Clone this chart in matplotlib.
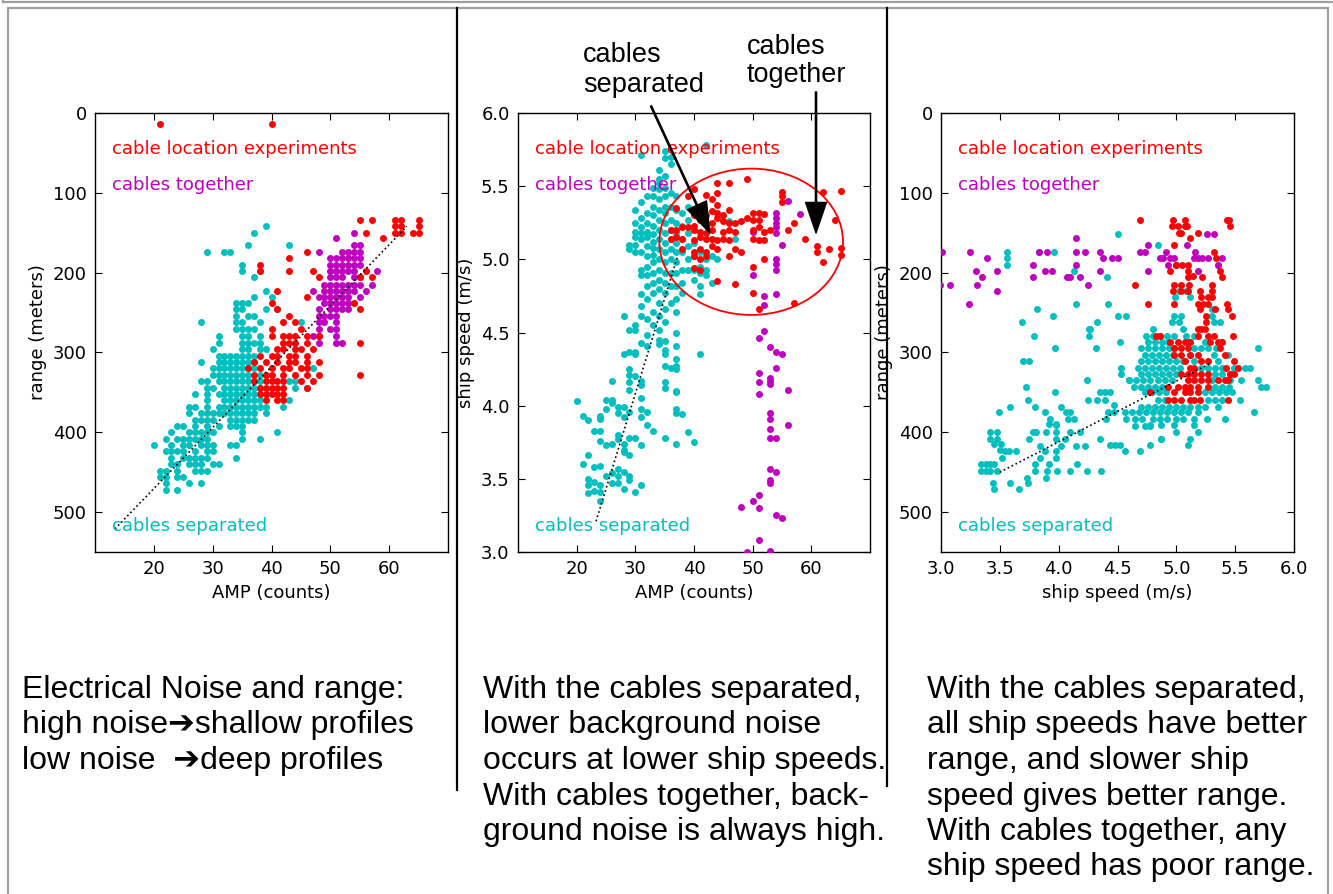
import matplotlib
matplotlib.use('Agg')
import matplotlib.pyplot as plt
from matplotlib.patches import Ellipse, Rectangle
from matplotlib.lines import Line2D

W, H = 1333, 894
RED = '#ff0000'
CYAN = '#00bfbf'
MAG = '#bf00bf'

# ---- panel 1: AMP (counts) vs range (m); rows are range -> AMP values
p1_sep_rows = {
    142: [39], 150: [37], 166: [36, 43], 174: [29, 32, 33], 191: [35], 198: [35, 38],
    205: [37], 223: [39], 230: [37, 40], 238: [34, 35, 36], 246: [34, 35, 39, 41],
    254: [34, 36, 37], 262: [28, 34, 35, 38, 45], 271: [34, 35, 36, 37],
    280: [31, 35, 36, 38], 288: [31, 35, 36, 37, 38], 296: [30, 35, 36, 38, 39],
    304: [31, 32, 33, 34, 35, 36, 37], 312: [28, 31, 32, 33, 34, 35, 36, 37],
    320: [30, 31, 32, 33, 34, 35, 36, 37, 47], 328: [30, 31, 32, 33, 34, 35, 36, 38],
    336: [28, 29, 31, 32, 33, 34, 35, 36, 37, 38, 43, 44],
    344: [29, 30, 32, 33, 34, 35, 36, 37, 38, 44, 46],
    352: [27, 29, 31, 32, 33, 34, 35, 36, 37], 360: [29, 32, 33, 34, 35, 36, 37, 38, 43],
    368: [26, 27, 29, 31, 32, 33, 34, 35, 36, 37, 38, 39, 42],
    376: [26, 28, 29, 30, 31, 32, 33, 34, 35, 36, 37, 39],
    384: [27, 28, 29, 30, 33, 34, 35, 36, 37], 392: [24, 25, 27, 29, 31, 33, 34, 35],
    400: [23, 26, 27, 28, 29, 30, 35, 41], 408: [22, 24, 25, 26, 27, 28, 29, 35, 38],
    416: [20, 23, 25, 26, 28, 29, 30, 33, 34], 424: [22, 23, 24, 25, 27, 29, 30],
    432: [23, 25, 26, 27, 28, 29, 34], 440: [23, 24, 26, 27, 28, 30, 31],
    448: [21, 22, 24, 27, 28, 29], 456: [21, 22, 24, 25], 464: [22, 26, 28], 472: [22, 24],
}
p1_tog_rows = {
    150: [54], 157: [51], 166: [54, 55], 174: [48, 52, 53, 54, 55],
    182: [50, 51, 52, 53, 54, 55], 191: [50, 51, 52, 53, 54, 55], 198: [50, 51, 52, 53, 54, 58],
    205: [50, 51, 52, 54, 55], 215: [49, 50, 51, 52, 53, 54, 55, 57],
    223: [47, 49, 50, 51, 52, 53, 54, 56], 230: [48, 49, 50, 51, 52, 53, 55],
    238: [49, 50, 51, 52, 53], 246: [48, 50, 51, 52, 53], 254: [48, 49, 50, 51],
    262: [48, 49, 51], 271: [48, 50, 51], 280: [47, 48, 51], 288: [48, 51, 52],
}
p1_exp_rows = {
    14: [21, 40], 134: [55, 57, 61, 62, 65], 142: [61, 62, 65], 150: [56, 61, 62, 64, 65],
    157: [59], 174: [46], 182: [43], 191: [38], 198: [38, 43, 47, 56], 205: [48, 55, 57],
    223: [41], 230: [46], 238: [40, 54], 246: [41, 55], 254: [43], 262: [42, 44],
    271: [40, 45], 280: [40, 42, 43, 44, 46, 48], 288: [42, 43, 44, 46, 55],
    296: [41, 42, 44, 45, 47], 304: [38, 40, 41, 43, 44, 46],
    312: [37, 39, 41, 43, 44, 46, 48], 320: [36, 38, 40, 42, 43, 45, 46],
    328: [37, 39, 40, 42, 44, 46, 48, 55], 336: [37, 39, 40, 41, 42, 45, 47],
    344: [38, 39, 40, 41, 42, 46], 352: [38, 39, 40, 41, 42], 360: [39, 41, 42],
}
p1_fit_amp = [13.4, 63]
p1_fit_rng = [521, 142]

# ---- panel 2: AMP (counts) vs ship speed (m/s)
p2_sep_cols = {
    20: [4.03], 21: [3.93, 3.60], 22: [3.90, 3.66, 3.50, 3.46, 3.40],
    23: [3.83, 3.58, 3.48, 3.42], 24: [3.93, 3.91, 3.83, 3.76, 3.59, 3.46, 3.41, 3.35],
    25: [4.04, 3.98, 3.73, 3.52], 26: [4.17, 4.04, 4.02, 3.74, 3.54, 3.47],
    27: [3.99, 3.95, 3.80, 3.77, 3.57, 3.52, 3.47],
    28: [4.61, 4.35, 3.99, 3.92, 3.74, 3.70, 3.68, 3.55, 3.43],
    29: [5.10, 5.07, 4.52, 4.37, 4.25, 4.21, 4.16, 4.11, 3.96, 3.78, 3.66, 3.52, 3.49],
    30: [5.34, 5.25, 5.19, 5.15, 5.10, 5.05, 4.55, 4.52, 4.37, 4.35, 4.20, 3.78, 3.41],
    31: [5.71, 5.39, 5.28, 5.22, 5.18, 5.14, 5.05, 4.93, 4.89, 4.76, 4.68, 4.61, 4.43,
         4.17, 4.14, 4.05, 3.98, 3.92, 3.73, 3.46],
    32: [5.43, 5.32, 5.25, 5.19, 5.15, 5.09, 5.02, 4.95, 4.89, 4.82, 4.73, 4.59, 4.48,
         4.41, 3.96, 3.87],
    33: [5.49, 5.43, 5.36, 5.30, 5.23, 5.17, 5.12, 5.08, 5.03, 4.98, 4.91, 4.84, 4.77,
         4.64, 4.55, 3.83],
    34: [5.61, 5.55, 5.52, 5.48, 5.41, 5.34, 5.27, 5.20, 5.14, 5.07, 5.00, 4.93, 4.86,
         4.80, 4.70, 4.61, 4.52, 4.45, 4.42],
    35: [5.74, 5.69, 5.57, 5.49, 5.43, 5.36, 5.32, 5.25, 5.18, 5.11, 5.05, 4.98, 4.91,
         4.84, 4.77, 4.66, 4.57, 4.44, 4.38, 4.35, 4.27, 4.16, 4.12, 3.78],
    36: [5.70, 5.65, 5.45, 5.36, 5.27, 5.20, 5.14, 5.07, 5.00, 4.91, 4.82, 4.70, 4.26],
    37: [5.43, 5.34, 5.25, 5.18, 5.11, 5.05, 4.98, 4.91, 4.82, 4.73, 4.64, 4.50, 4.41,
         4.32, 4.27, 4.25, 4.10, 4.09, 3.98, 3.95, 3.74],
    38: [5.32, 5.23, 5.14, 5.05, 4.93, 4.84, 4.77, 3.94],
    39: [5.36, 5.27, 5.18, 5.09, 5.00, 4.93, 3.82],
    40: [5.11, 5.02, 4.93, 4.86, 3.75], 41: [5.05, 4.95, 4.91, 4.82, 4.76, 4.35],
    42: [5.78, 5.00, 4.93, 4.89], 43: [5.14, 5.02, 4.84], 44: [5.00], 46: [5.26], 47: [5.14],
}
p2_tog = [(56, 5.40), (58, 5.31), (54, 5.32), (54, 5.28), (54, 5.25), (54, 5.22), (54, 5.18),
          (50, 5.19), (55, 5.10), (54, 5.00), (54, 4.97), (54, 4.93), (50, 4.89), (52, 4.75),
          (52, 4.69), (54, 4.76), (52, 4.51), (51, 4.46), (53, 4.40), (54, 4.37), (55, 4.35),
          (54, 4.26), (51, 4.22), (51, 4.16), (51, 4.08), (53, 4.19), (53, 4.17), (53, 4.15),
          (56, 4.11), (53, 3.95), (53, 3.91), (53, 3.84), (53, 3.78), (54, 3.78), (56, 3.87),
          (53, 3.57), (54, 3.55), (53, 3.49), (53, 3.47), (51, 3.39), (50, 3.35), (48, 3.31),
          (51, 3.30), (54, 3.25), (55, 3.23), (51, 3.08), (53, 3.01), (49, 3.00)]
p2_exp = [(49, 5.55), (46, 5.52), (44, 5.52), (40, 5.48), (42, 5.44), (44, 5.45), (43, 5.41),
          (39, 5.43), (55, 5.46), (55, 5.43), (62, 5.46), (65, 5.47), (55, 5.39), (37, 5.35),
          (44, 5.37), (46, 5.34), (45, 5.30), (44, 5.32), (43, 5.33), (42, 5.30), (50, 5.32),
          (51, 5.32), (52, 5.31), (50, 5.27), (51, 5.27), (49, 5.28), (47, 5.25), (48, 5.26),
          (46, 5.25), (45, 5.26), (44, 5.28), (43, 5.25), (40, 5.30), (41, 5.27), (40, 5.23),
          (39, 5.22), (57, 5.25), (56, 5.20), (64, 5.27), (36, 5.20), (37, 5.20), (38, 5.22),
          (40, 5.20), (41, 5.19), (42, 5.18), (43, 5.20), (45, 5.19), (46, 5.20), (47, 5.19),
          (50, 5.20), (51, 5.22), (52, 5.19), (53, 5.20), (36, 5.14), (37, 5.15), (38, 5.14),
          (40, 5.13), (41, 5.15), (42, 5.14), (43, 5.14), (44, 5.13), (45, 5.14), (46, 5.13),
          (50, 5.14), (51, 5.13), (52, 5.13), (59, 5.14), (61, 5.09), (63, 5.07), (61, 5.05),
          (65, 5.08), (62, 4.98), (65, 5.03), (38, 5.07), (40, 5.05), (41, 5.07), (42, 5.05),
          (43, 5.09), (40, 5.02), (41, 5.00), (42, 5.02), (44, 5.07), (46, 5.02), (47, 5.07),
          (48, 5.05), (52, 5.00), (50, 4.95), (40, 4.94), (41, 4.93), (44, 4.85), (47, 4.83),
          (50, 4.77), (57, 4.70), (51, 4.66)]
p2_fit_amp = [23.3, 37.2]
p2_fit_spd = [3.21, 5.02]
p2_ring = (49.75, 5.12, 31.3, 1.0)   # centre amp, centre speed, width, height
p2_tip_sep = (42.7, 5.18)
p2_tip_tog = (60.8, 5.18)

# ---- panel 3: ship speed (m/s) vs range (m)
p3_sep_rows = {
    223: [5.02, 5.08], 230: [4.99, 5.12], 246: [5.30], 254: [4.98, 5.04, 5.30],
    262: [4.96, 5.02, 5.32, 5.37], 271: [4.80, 5.06],
    279: [4.74, 4.80, 4.86, 4.92, 4.98, 5.08, 5.15],
    287: [4.76, 4.82, 4.88, 4.93, 5.10, 5.12, 5.24, 5.38],
    295: [4.70, 4.76, 4.82, 4.88, 4.94, 4.98, 5.15, 5.21, 5.27, 5.34, 5.69],
    303: [4.73, 4.79, 4.85, 4.91, 4.97, 5.12, 5.32, 5.44],
    311: [4.70, 4.76, 4.82, 4.88, 4.94, 5.00, 5.06, 5.15, 5.35],
    319: [4.67, 4.73, 4.79, 4.85, 4.91, 4.97, 5.03, 5.21, 5.27, 5.33, 5.39, 5.49, 5.58, 5.63],
    327: [4.70, 4.76, 4.82, 4.88, 4.94, 5.00, 5.33, 5.39, 5.46],
    335: [4.60, 4.66, 4.72, 4.78, 4.84, 4.90, 4.96, 5.30, 5.46, 5.55, 5.69],
    343: [4.64, 4.70, 4.76, 4.82, 4.88, 5.33, 5.39, 5.45, 5.72, 5.76],
    350: [4.73, 4.79, 4.85, 4.91, 5.24, 5.30, 5.36, 5.42, 5.47],
    359: [4.84, 4.90, 5.27, 5.33, 5.39, 5.54],
    368: [4.70, 4.76, 4.82, 4.88, 4.94, 5.00, 5.06, 5.12, 5.18, 5.24, 5.35],
    375: [4.56, 4.62, 4.68, 4.74, 4.80, 4.86, 4.92, 4.98, 5.04, 5.10, 5.18, 5.66],
    383: [4.65, 4.71, 4.80, 4.86, 4.92, 5.00, 5.06, 5.15, 5.26, 5.41],
    391: [4.78, 4.87, 4.98, 5.15], 400: [5.00, 5.18], 408: [4.87, 5.12], 416: [5.10],
}
p3_sep_sparse = [
    (4.50, 151), (4.84, 166), (3.56, 174), (3.56, 182), (3.56, 191), (3.83, 174), (3.96, 174),
    (4.13, 198), (4.41, 205), (5.35, 191), (3.82, 246), (3.95, 254), (4.15, 239), (4.42, 239),
    (4.50, 254), (4.57, 254), (3.69, 262), (4.27, 271), (4.33, 262), (3.79, 279), (4.26, 271),
    (4.26, 279), (3.97, 294), (4.32, 294), (4.52, 287), (3.70, 311), (3.75, 311), (4.24, 335),
    (4.53, 319), (4.53, 327), (4.60, 335), (3.72, 343), (3.74, 359), (3.97, 350), (3.59, 368),
    (3.49, 375), (3.80, 368), (3.88, 375), (3.93, 383), (3.92, 390), (3.98, 390), (4.02, 368),
    (4.06, 375), (4.10, 375), (4.08, 383), (4.13, 383), (4.25, 360), (4.33, 360), (4.39, 360),
    (4.35, 350), (4.39, 350), (4.44, 350), (4.47, 366), (4.47, 375), (4.42, 375), (4.40, 383),
    (4.57, 383), (4.65, 392), (4.73, 392), (4.78, 392), (3.42, 400), (3.48, 400), (3.42, 409),
    (3.48, 409), (3.45, 415), (3.51, 415), (3.54, 423), (3.50, 422), (3.52, 432), (3.58, 423),
    (3.64, 423), (3.75, 408), (3.78, 400), (3.81, 400), (3.84, 417), (3.89, 400), (3.98, 391),
    (3.98, 400), (3.98, 408), (4.02, 417), (4.05, 409), (4.10, 400), (4.18, 400), (4.15, 417),
    (4.22, 417), (4.35, 408), (4.44, 416), (4.48, 416), (4.52, 416), (4.56, 423), (4.69, 423),
    (4.78, 416), (4.87, 408), (3.34, 440), (3.38, 440), (3.42, 440), (3.34, 448), (3.38, 448),
    (3.42, 448), (3.48, 448), (3.45, 440), (3.44, 463), (3.45, 471), (3.59, 463), (3.66, 471),
    (3.73, 457), (3.74, 463), (3.80, 440), (3.80, 448), (3.90, 448), (3.92, 440), (3.89, 457),
    (3.99, 448), (4.10, 448), (4.16, 440), (4.24, 448), (4.36, 448), (3.98, 423), (3.98, 432),
    (3.88, 423), (3.84, 432)]
p3_tog = [(3.01, 174), (3.08, 215), (2.99, 215), (3.25, 174), (3.30, 198), (3.35, 206),
          (3.31, 215), (3.39, 182), (3.24, 239), (3.48, 198), (3.48, 223), (3.78, 191),
          (3.78, 205), (3.83, 174), (3.90, 174), (3.88, 198), (3.94, 198), (4.07, 205),
          (4.10, 205), (4.15, 157), (4.15, 174), (4.15, 191), (4.22, 174), (4.18, 205),
          (4.25, 215), (4.35, 174), (4.38, 182), (4.35, 198), (4.45, 182), (4.50, 182),
          (4.69, 174), (4.73, 174), (4.76, 166), (4.76, 198), (4.86, 182), (4.89, 182),
          (4.91, 174), (4.95, 182), (4.98, 182), (4.93, 191), (5.00, 191), (5.09, 166),
          (5.16, 174), (5.15, 182), (5.18, 182), (5.22, 182), (5.27, 182), (5.18, 198),
          (5.26, 151), (5.32, 151), (5.39, 182), (5.35, 191)]
p3_exp = [(4.69, 134), (4.97, 134), (5.07, 134), (4.96, 142), (5.01, 142), (5.07, 142),
          (5.09, 142), (5.02, 150), (5.04, 150), (5.12, 157), (5.18, 150), (5.43, 134),
          (5.45, 134), (5.46, 142), (4.98, 166), (5.32, 174), (5.34, 182), (5.00, 191),
          (5.05, 191), (5.10, 191), (4.95, 198), (5.10, 198), (5.14, 204), (5.10, 206),
          (5.22, 205), (5.37, 198), (5.39, 206), (4.65, 215), (4.98, 215), (5.04, 215),
          (5.11, 215), (4.97, 223), (5.04, 223), (5.10, 223), (5.20, 223), (5.30, 215),
          (5.30, 223), (5.21, 230), (5.27, 230), (5.30, 230), (4.76, 239), (4.98, 239),
          (5.18, 239), (5.20, 246), (5.23, 239), (5.27, 239), (5.43, 239), (5.25, 254),
          (5.25, 262), (5.33, 246), (5.44, 246), (5.47, 254), (5.21, 271), (5.24, 271),
          (4.83, 279), (4.86, 279), (4.95, 287), (5.01, 287), (5.07, 287), (5.12, 287),
          (5.18, 279), (5.27, 279), (5.32, 279), (5.48, 279), (5.18, 271), (4.98, 295),
          (5.04, 295), (5.10, 295), (5.29, 287), (5.35, 287), (5.39, 287), (5.37, 295),
          (5.41, 303), (4.98, 303), (5.04, 303), (5.12, 303), (5.18, 303), (5.21, 311),
          (5.27, 311), (5.07, 311), (5.12, 319), (5.15, 319), (5.49, 311), (5.52, 319),
          (5.46, 327), (5.49, 327), (5.44, 335), (5.42, 319), (5.04, 327), (5.10, 327),
          (5.15, 327), (5.21, 327), (5.27, 327), (5.10, 335), (5.15, 335), (5.21, 335),
          (5.27, 335), (5.35, 335), (5.41, 335), (4.93, 343), (5.01, 343), (5.07, 343),
          (5.12, 343), (5.18, 343), (5.27, 343), (4.78, 350), (4.98, 350), (5.07, 350),
          (5.12, 350), (5.18, 350), (4.93, 359), (4.98, 359), (5.04, 359), (5.12, 359),
          (5.15, 359), (5.20, 359), (5.44, 359)]
p3_fit_spd = [3.5, 5.3]
p3_fit_rng = [450, 313]

notes_1 = ['Electrical Noise and range:', 'high noise\u2794shallow profiles',
           'low noise  \u2794deep profiles']
notes_2 = ['With the cables separated,', 'lower background noise',
           'occurs at lower ship speeds.', 'With cables together, back-',
           'ground noise is always high.']
notes_3 = ['With the cables separated,', 'all ship speeds have better',
           'range, and slower ship', 'speed gives better range.',
           'With cables together, any', 'ship speed has poor range.']


def rows_xy(rows):
    # {key: [values]} -> values on x, key on y
    xs, ys = [], []
    for k, vals in rows.items():
        xs += vals
        ys += [k] * len(vals)
    return xs, ys


def cols_xy(cols):
    xs, ys = [], []
    for k, vals in cols.items():
        xs += [k] * len(vals)
        ys += vals
    return xs, ys


def fx(px):
    return px / W


def fy(py):
    return 1 - py / H


def dots(ax, xs, ys, color):
    ax.plot(xs, ys, 'o', color=color, ms=5.0, mew=0, zorder=3)


def style(ax):
    ax.tick_params(direction='in', top=True, right=True, length=5, width=0.8,
                   labelsize=13, pad=6)
    for s in ax.spines.values():
        s.set_linewidth(1.0)


def tags(ax):
    kw = dict(transform=ax.transAxes, fontsize=13, va='center', ha='left', zorder=4)
    ax.text(0.048, 0.918, 'cable location experiments', color=RED, **kw)
    ax.text(0.048, 0.836, 'cables together', color=MAG, **kw)
    ax.text(0.048, 0.059, 'cables separated', color=CYAN, **kw)


fig = plt.figure(figsize=(W / 100, H / 100), dpi=100)
fig.patch.set_facecolor('white')

ax_h = 439 / H
ax_b = fy(552)
ax1 = fig.add_axes([fx(95), ax_b, 353 / W, ax_h])
ax2 = fig.add_axes([fx(518), ax_b, 352 / W, ax_h])
ax3 = fig.add_axes([fx(941), ax_b, 353 / W, ax_h])

# panel 1
x, y = rows_xy(p1_sep_rows)
dots(ax1, x, y, CYAN)
x, y = rows_xy(p1_tog_rows)
dots(ax1, x, y, MAG)
x, y = rows_xy(p1_exp_rows)
dots(ax1, x, y, RED)
ax1.plot(p1_fit_amp, p1_fit_rng, 'k:', lw=1.2, zorder=4)
ax1.set_xlim(10, 70)
ax1.set_ylim(550, 0)
ax1.set_xticks([20, 30, 40, 50, 60])
ax1.set_yticks([0, 100, 200, 300, 400, 500])
ax1.set_xlabel('AMP (counts)', fontsize=13)
ax1.set_ylabel('range (meters)', fontsize=13)

# panel 2
x, y = cols_xy(p2_sep_cols)
dots(ax2, x, y, CYAN)
dots(ax2, [p[0] for p in p2_tog], [p[1] for p in p2_tog], MAG)
dots(ax2, [p[0] for p in p2_exp], [p[1] for p in p2_exp], RED)
ax2.plot(p2_fit_amp, p2_fit_spd, 'k:', lw=1.2, zorder=4)
ax2.add_patch(Ellipse(p2_ring[:2], p2_ring[2], p2_ring[3], fill=False,
                      edgecolor=RED, lw=1.3, zorder=5))
ax2.set_xlim(10, 70)
ax2.set_ylim(3, 6)
ax2.set_xticks([20, 30, 40, 50, 60])
ax2.set_yticks([3.0, 3.5, 4.0, 4.5, 5.0, 5.5, 6.0])
ax2.set_yticklabels(['3.0', '3.5', '4.0', '4.5', '5.0', '5.5', '6.0'])
ax2.set_xlabel('AMP (counts)', fontsize=13)
ax2.set_ylabel('ship speed (m/s)', fontsize=13)

arrow = dict(facecolor='black', edgecolor='black', width=0.9, headwidth=15,
             headlength=22, shrink=0)
ax2.annotate('', xy=p2_tip_sep, xycoords='data', xytext=(651, H - 106),
             textcoords='figure pixels', arrowprops=arrow, annotation_clip=False, zorder=6)
ax2.annotate('', xy=p2_tip_tog, xycoords='data', xytext=(816, H - 92),
             textcoords='figure pixels', arrowprops=arrow, annotation_clip=False, zorder=6)

# panel 3
x, y = rows_xy(p3_sep_rows)
dots(ax3, x, y, CYAN)
dots(ax3, [p[0] for p in p3_sep_sparse], [p[1] for p in p3_sep_sparse], CYAN)
dots(ax3, [p[0] for p in p3_tog], [p[1] for p in p3_tog], MAG)
dots(ax3, [p[0] for p in p3_exp], [p[1] for p in p3_exp], RED)
ax3.plot(p3_fit_spd, p3_fit_rng, 'k:', lw=1.2, zorder=4)
ax3.set_xlim(3, 6)
ax3.set_ylim(550, 0)
ax3.set_xticks([3.0, 3.5, 4.0, 4.5, 5.0, 5.5, 6.0])
ax3.set_xticklabels(['3.0', '3.5', '4.0', '4.5', '5.0', '5.5', '6.0'])
ax3.set_yticks([0, 100, 200, 300, 400, 500])
ax3.set_xlabel('ship speed (m/s)', fontsize=13)
ax3.set_ylabel('range (meters)', fontsize=13)

for ax in (ax1, ax2, ax3):
    style(ax)
    tags(ax)

# annotation words above panel 2
big = dict(family=['Liberation Sans', 'DejaVu Sans'], fontsize=19.5, color='black',
           va='baseline', ha='left')
fig.text(fx(583), fy(62), 'cables', **big)
fig.text(fx(583), fy(92), 'separated', **big)
fig.text(fx(747), fy(54), 'cables', **big)
fig.text(fx(747), fy(82), 'together', **big)

# notes under the panels
note = dict(family=['Liberation Sans', 'DejaVu Sans'], fontsize=23, color='black',
            va='baseline', ha='left')
for left, lines in ((22, notes_1), (483, notes_2), (927, notes_3)):
    for i, line in enumerate(lines):
        fig.text(fx(left), fy(698 + 35.5 * i), line, **note)

# slide frame and column separators
grey = '#a0a0a0'
fig.add_artist(Line2D([fx(3), fx(W)], [fy(2), fy(2)], color=grey, lw=1.6))
fig.add_artist(Line2D([fx(3), fx(3)], [fy(0), fy(2)], color=grey, lw=1.6))
fig.add_artist(Rectangle((fx(8), fy(H + 5)), fx(1320), (H - 3) / H, fill=False,
                         edgecolor=grey, lw=1.6))
fig.add_artist(Line2D([fx(457), fx(457)], [fy(8), fy(790)], color='black', lw=1.6))
fig.add_artist(Line2D([fx(887), fx(887)], [fy(8), fy(786)], color='black', lw=1.6))

fig.savefig('out.png', dpi=100, facecolor='white')
